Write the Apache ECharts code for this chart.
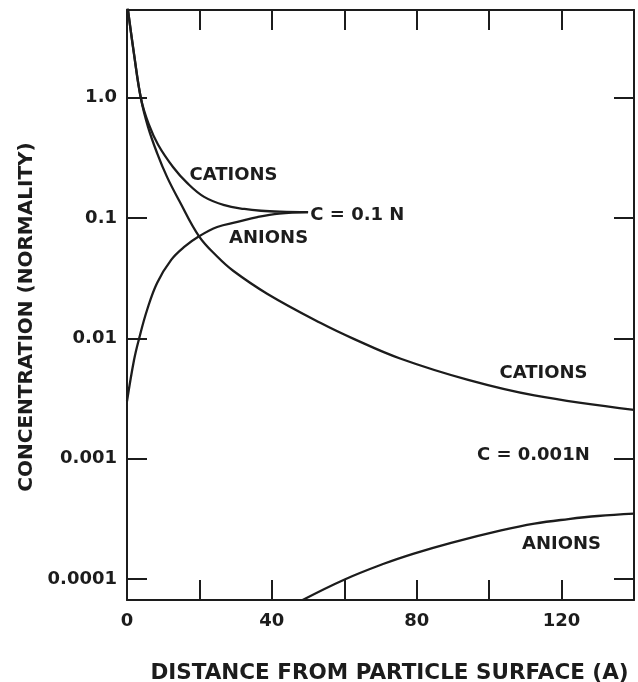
<!DOCTYPE html>
<html>
<head>
<meta charset="utf-8">
<script src="https://cdn.jsdelivr.net/npm/echarts@6/dist/echarts.min.js"></script>
<style>
html,body{margin:0;padding:0;background:#fff;}
#chart{width:638px;height:682px;}
</style>
</head>
<body>
<div id="chart"></div>
<script>
// Distance from particle surface (A) and concentration (normality)
var cation01 = [[0,6.2],[1.94,2.31],[3.88,0.977],[6.0,0.603],[8.59,0.407],[12.7,0.266],[16.6,0.196],[21.3,0.150],[26.9,0.128],[32.4,0.119],[37,0.115],[42.4,0.113],[50,0.112]];
var anion01 = [[0,0.0030],[1.94,0.0066],[3.32,0.0099],[5.54,0.0172],[8.31,0.0289],[12.2,0.0449],[15.8,0.0575],[19.9,0.0705],[24.9,0.0843],[30.5,0.0929],[36,0.102],[42,0.109],[50,0.112]];
var cation0001 = [[0,6.2],[1.94,2.31],[3.88,0.977],[5.82,0.571],[8.31,0.347],[11.08,0.219],[14.5,0.138],[19.9,0.0705],[24.9,0.0479],[29.4,0.0363],[38.8,0.0234],[53.5,0.0134],[62.6,0.0099],[75.6,0.00676],[94.2,0.00451],[112.5,0.00335],[140,0.00254]];
var anion0001 = [[48.5,0.0000667],[59.8,0.0000979],[70.9,0.0001334],[79.2,0.0001622],[89.5,0.0001995],[103.3,0.000253],[112.5,0.000288],[121.9,0.000314],[130,0.000333],[140,0.000349]];

var yTickValues = [0.0001, 0.001, 0.01, 0.1, 1];
var yTickLabels = ['0.0001', '0.001', '0.01', '0.1', '1.0'];
var xTickLabels = ['0', '40', '80', '120'];
var xLabelledValues = [0, 40, 80, 120];

var annotations = [
  [29.4, 0.228, 'CATIONS'],
  [63.6, 0.106, 'C = 0.1 N'],
  [39.1, 0.0684, 'ANIONS'],
  [115, 0.00515, 'CATIONS'],
  [112.2, 0.00107, 'C = 0.001N'],
  [120, 0.000192, 'ANIONS']
];

var INK = '#1c1c1c';
var yMin = 0.0000667, yMax = 5.37;

function yFmt(v) {
  for (var i = 0; i < yTickValues.length; i++) {
    if (Math.abs(Math.log10(v) - Math.log10(yTickValues[i])) < 1e-6) return yTickLabels[i];
  }
  return '';
}
function xFmt(v) {
  var i = xLabelledValues.indexOf(v);
  return i >= 0 ? xTickLabels[i] : '';
}

var chart = echarts.init(document.getElementById('chart'));
var lineStyle = { color: INK, width: 2.3 };
function curve(data) {
  return {
    type: 'line', data: data, xAxisIndex: 0, yAxisIndex: 0,
    smooth: 0.4, symbol: 'none', lineStyle: lineStyle, clip: true, z: 3
  };
}
var textStyleBase = { fontFamily: 'DejaVu Sans', fontWeight: 'bold', color: INK };

chart.setOption({
  animation: false,
  backgroundColor: '#fff',
  grid: { left: 127, right: 4, top: 10, bottom: 82, containLabel: false, outerBoundsMode: 'none' },
  xAxis: [{
    type: 'value', min: 0, max: 140, interval: 20, position: 'bottom',
    axisLine: { show: true, onZero: false, lineStyle: { color: INK, width: 2 } },
    axisTick: { show: true, inside: true, length: 20, lineStyle: { color: INK, width: 2 } },
    splitLine: { show: false },
    axisLabel: Object.assign({ show: true, margin: 12, fontSize: 18, formatter: xFmt }, textStyleBase),
    name: 'DISTANCE FROM PARTICLE SURFACE (A)', nameLocation: 'middle', nameGap: 62,
    nameTextStyle: Object.assign({ fontSize: 21.5, padding: [0, 0, 0, 18] }, textStyleBase)
  }, {
    type: 'value', min: 0, max: 140, interval: 20, position: 'top',
    axisLine: { show: true, onZero: false, lineStyle: { color: INK, width: 2 } },
    axisTick: { show: true, inside: true, length: 20, lineStyle: { color: INK, width: 2 } },
    splitLine: { show: false }, axisLabel: { show: false }
  }],
  yAxis: [{
    type: 'log', logBase: 10, min: yMin, max: yMax, position: 'left',
    axisLine: { show: true, onZero: false, lineStyle: { color: INK, width: 2 } },
    axisTick: { show: true, inside: true, length: 20, lineStyle: { color: INK, width: 2 } },
    minorTick: { show: false }, splitLine: { show: false },
    axisLabel: Object.assign({ show: true, margin: 10, fontSize: 18, formatter: yFmt, showMinLabel: false, showMaxLabel: false }, textStyleBase),
    name: 'CONCENTRATION (NORMALITY)', nameLocation: 'middle', nameGap: 88, nameRotate: 90,
    nameTextStyle: Object.assign({ fontSize: 20, padding: [0, 24, 0, 0] }, textStyleBase)
  }, {
    type: 'log', logBase: 10, min: yMin, max: yMax, position: 'right',
    axisLine: { show: true, onZero: false, lineStyle: { color: INK, width: 2 } },
    axisTick: { show: true, inside: true, length: 20, lineStyle: { color: INK, width: 2 } },
    minorTick: { show: false }, splitLine: { show: false }, axisLabel: { show: false }
  }],
  series: [
    curve(cation01),
    curve(anion01),
    curve(cation0001),
    curve(anion0001),
    {
      type: 'scatter', xAxisIndex: 0, yAxisIndex: 0, symbolSize: 0, z: 5,
      itemStyle: { opacity: 1 },
      data: annotations,
      label: Object.assign({
        show: true, position: 'inside', fontSize: 18, opacity: 1,
        formatter: function (p) { return p.data[2]; }
      }, textStyleBase)
    }
  ]
});
</script>
</body>
</html>
